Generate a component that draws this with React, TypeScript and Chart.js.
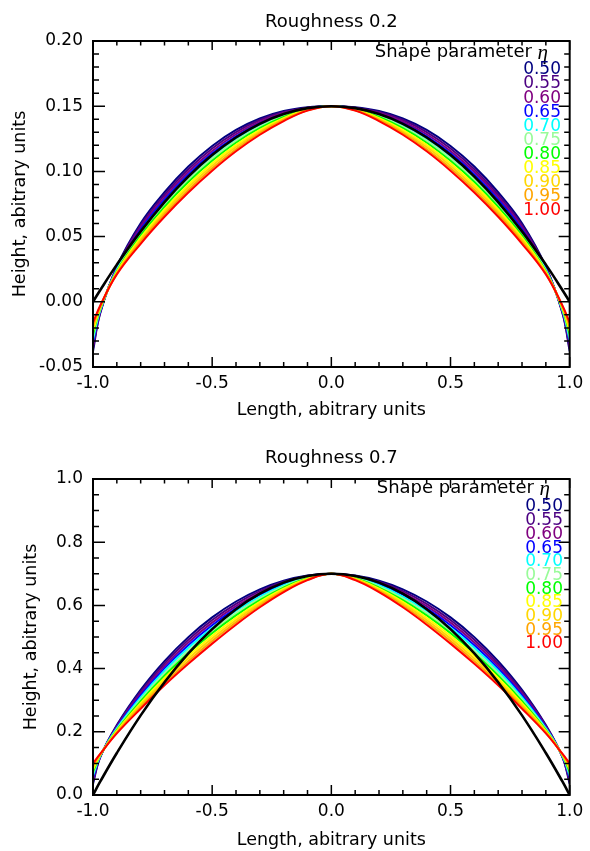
import React, { useEffect, useRef } from 'react';
import { Chart, registerables } from 'chart.js';
Chart.register(...registerables);

// ---- data ----
const X = [-1, -0.97, -0.9, -0.8, -0.7, -0.6, -0.5, -0.4, -0.3, -0.2, -0.1, 0, 0.1, 0.2, 0.3, 0.4, 0.5, 0.6, 0.7, 0.8, 0.9, 0.97, 1];
const X_TICKS = [-1, -0.5, 0, 0.5, 1];
const Y_TICKS_R02 = [-0.05, 0, 0.05, 0.1, 0.15, 0.2];
const Y_TICKS_R07 = [0, 0.2, 0.4, 0.6, 0.8, 1.0];
const ETA_LABELS = ['0.50', '0.55', '0.60', '0.65', '0.70', '0.75', '0.80', '0.85', '0.90', '0.95', '1.00'];
const ETA_COLORS = ['#000080', '#4b0082', '#800080', '#0000ff', '#00ffff', '#98fb98', '#00ff00', '#ffff00', '#ffd700', '#ffa500', '#ff0000'];

// Roughness 0.2
const R02_BLACK = [0, 0.0089, 0.0285, 0.054, 0.0765, 0.096, 0.1125, 0.126, 0.1365, 0.144, 0.1485, 0.15, 0.1485, 0.144, 0.1365, 0.126, 0.1125, 0.096, 0.0765, 0.054, 0.0285, 0.0089, 0];
const R02_050 = [-0.038, -0.009, 0.027, 0.0602, 0.084, 0.1037, 0.1195, 0.1318, 0.1406, 0.1463, 0.1492, 0.15, 0.1492, 0.1463, 0.1406, 0.1318, 0.1195, 0.1037, 0.084, 0.0602, 0.027, -0.009, -0.038];
const R02_055 = [-0.0358, -0.0084, 0.0264, 0.0586, 0.0821, 0.1017, 0.1176, 0.1302, 0.1394, 0.1455, 0.1489, 0.15, 0.1489, 0.1455, 0.1394, 0.1302, 0.1176, 0.1017, 0.0821, 0.0586, 0.0264, -0.0084, -0.0358];
const R02_060 = [-0.0336, -0.0078, 0.0258, 0.0571, 0.0802, 0.0997, 0.1157, 0.1285, 0.1381, 0.1448, 0.1487, 0.15, 0.1487, 0.1448, 0.1381, 0.1285, 0.1157, 0.0997, 0.0802, 0.0571, 0.0258, -0.0078, -0.0336];
const R02_065 = [-0.0314, -0.0072, 0.0252, 0.0555, 0.0784, 0.0977, 0.1138, 0.1269, 0.1369, 0.144, 0.1484, 0.15, 0.1484, 0.144, 0.1369, 0.1269, 0.1138, 0.0977, 0.0784, 0.0555, 0.0252, -0.0072, -0.0314];
const R02_070 = [-0.0292, -0.0066, 0.0246, 0.0539, 0.0765, 0.0957, 0.1119, 0.1252, 0.1356, 0.1432, 0.1482, 0.15, 0.1482, 0.1432, 0.1356, 0.1252, 0.1119, 0.0957, 0.0765, 0.0539, 0.0246, -0.0066, -0.0292];
const R02_075 = [-0.027, -0.006, 0.024, 0.0524, 0.0746, 0.0938, 0.11, 0.1236, 0.1344, 0.1425, 0.1479, 0.15, 0.1479, 0.1425, 0.1344, 0.1236, 0.11, 0.0938, 0.0746, 0.0524, 0.024, -0.006, -0.027];
const R02_080 = [-0.0248, -0.0054, 0.0234, 0.0508, 0.0727, 0.0918, 0.1081, 0.122, 0.1331, 0.1417, 0.1476, 0.15, 0.1476, 0.1417, 0.1331, 0.122, 0.1081, 0.0918, 0.0727, 0.0508, 0.0234, -0.0054, -0.0248];
const R02_085 = [-0.0226, -0.0048, 0.0228, 0.0492, 0.0708, 0.0898, 0.1062, 0.1203, 0.1319, 0.1409, 0.1474, 0.15, 0.1474, 0.1409, 0.1319, 0.1203, 0.1062, 0.0898, 0.0708, 0.0492, 0.0228, -0.0048, -0.0226];
const R02_090 = [-0.0204, -0.0042, 0.0222, 0.0476, 0.069, 0.0878, 0.1043, 0.1187, 0.1306, 0.1401, 0.1471, 0.15, 0.1471, 0.1401, 0.1306, 0.1187, 0.1043, 0.0878, 0.069, 0.0476, 0.0222, -0.0042, -0.0204];
const R02_095 = [-0.0182, -0.0036, 0.0216, 0.0461, 0.0671, 0.0858, 0.1024, 0.117, 0.1294, 0.1394, 0.1469, 0.15, 0.1469, 0.1394, 0.1294, 0.117, 0.1024, 0.0858, 0.0671, 0.0461, 0.0216, -0.0036, -0.0182];
const R02_100 = [-0.016, -0.003, 0.021, 0.0445, 0.0652, 0.0838, 0.1005, 0.1154, 0.1281, 0.1386, 0.1466, 0.15, 0.1466, 0.1386, 0.1281, 0.1154, 0.1005, 0.0838, 0.0652, 0.0445, 0.021, -0.003, -0.016];

// Roughness 0.7
const R07_BLACK = [0, 0.042, 0.133, 0.252, 0.357, 0.448, 0.525, 0.588, 0.637, 0.672, 0.693, 0.70, 0.693, 0.672, 0.637, 0.588, 0.525, 0.448, 0.357, 0.252, 0.133, 0.042, 0];
const R07_050 = [0.035, 0.1191, 0.2212, 0.3328, 0.4239, 0.4996, 0.562, 0.6123, 0.6509, 0.6782, 0.6946, 0.7, 0.6946, 0.6782, 0.6509, 0.6123, 0.562, 0.4996, 0.4239, 0.3328, 0.2212, 0.1191, 0.035];
const R07_055 = [0.0415, 0.1202, 0.2186, 0.3268, 0.4162, 0.4911, 0.5537, 0.605, 0.6452, 0.6746, 0.6931, 0.7, 0.6931, 0.6746, 0.6452, 0.605, 0.5537, 0.4911, 0.4162, 0.3268, 0.2186, 0.1202, 0.0415];
const R07_060 = [0.048, 0.1213, 0.216, 0.3208, 0.4085, 0.4827, 0.5454, 0.5976, 0.6395, 0.671, 0.6917, 0.7, 0.6917, 0.671, 0.6395, 0.5976, 0.5454, 0.4827, 0.4085, 0.3208, 0.216, 0.1213, 0.048];
const R07_065 = [0.0545, 0.1224, 0.2133, 0.3149, 0.4008, 0.4742, 0.5371, 0.5903, 0.6338, 0.6673, 0.6902, 0.7, 0.6902, 0.6673, 0.6338, 0.5903, 0.5371, 0.4742, 0.4008, 0.3149, 0.2133, 0.1224, 0.0545];
const R07_070 = [0.061, 0.1235, 0.2107, 0.3089, 0.3931, 0.4658, 0.5288, 0.583, 0.6281, 0.6637, 0.6888, 0.7, 0.6888, 0.6637, 0.6281, 0.583, 0.5288, 0.4658, 0.3931, 0.3089, 0.2107, 0.1235, 0.061];
const R07_075 = [0.0675, 0.1246, 0.2081, 0.3029, 0.3855, 0.4573, 0.5205, 0.5757, 0.6225, 0.6601, 0.6873, 0.7, 0.6873, 0.6601, 0.6225, 0.5757, 0.5205, 0.4573, 0.3855, 0.3029, 0.2081, 0.1246, 0.0675];
const R07_080 = [0.074, 0.1256, 0.2055, 0.2969, 0.3778, 0.4488, 0.5122, 0.5683, 0.6168, 0.6565, 0.6858, 0.7, 0.6858, 0.6565, 0.6168, 0.5683, 0.5122, 0.4488, 0.3778, 0.2969, 0.2055, 0.1256, 0.074];
const R07_085 = [0.0805, 0.1267, 0.2029, 0.2909, 0.3701, 0.4404, 0.5039, 0.561, 0.6111, 0.6529, 0.6844, 0.7, 0.6844, 0.6529, 0.6111, 0.561, 0.5039, 0.4404, 0.3701, 0.2909, 0.2029, 0.1267, 0.0805];
const R07_090 = [0.087, 0.1278, 0.2002, 0.285, 0.3624, 0.4319, 0.4956, 0.5537, 0.6054, 0.6492, 0.6829, 0.7, 0.6829, 0.6492, 0.6054, 0.5537, 0.4956, 0.4319, 0.3624, 0.285, 0.2002, 0.1278, 0.087];
const R07_095 = [0.0935, 0.1289, 0.1976, 0.279, 0.3547, 0.4235, 0.4873, 0.5463, 0.5997, 0.6456, 0.6815, 0.7, 0.6815, 0.6456, 0.5997, 0.5463, 0.4873, 0.4235, 0.3547, 0.279, 0.1976, 0.1289, 0.0935];
const R07_100 = [0.1, 0.13, 0.195, 0.273, 0.347, 0.415, 0.479, 0.539, 0.594, 0.642, 0.68, 0.7, 0.68, 0.642, 0.594, 0.539, 0.479, 0.415, 0.347, 0.273, 0.195, 0.13, 0.1];

const R02_SERIES = [R02_050, R02_055, R02_060, R02_065, R02_070, R02_075, R02_080, R02_085, R02_090, R02_095, R02_100];
const R07_SERIES = [R07_050, R07_055, R07_060, R07_065, R07_070, R07_075, R07_080, R07_085, R07_090, R07_095, R07_100];

const FONT = "'DejaVu Sans', 'Liberation Sans', sans-serif";

const PANELS = [
  {
    title: 'Roughness 0.2', series: R02_SERIES, black: R02_BLACK,
    yMin: -0.05, yMax: 0.2, yTicks: Y_TICKS_R02, yDec: 2, yMinor: 0.01, yMajor: 0.05,
    top: 0, height: 425, titlePad: { top: 11.2, bottom: 8.2 }, xScaleH: 58, xTitlePad: 4.5, yTitlePad: 9.5,
    headRight: 548, headY: 52, valRight: 561, valY0: 70, valStep: 14.07,
  },
  {
    title: 'Roughness 0.7', series: R07_SERIES, black: R07_BLACK,
    yMin: 0, yMax: 1, yTicks: Y_TICKS_R07, yDec: 1, yMinor: 0.05, yMajor: 0.2,
    top: 425, height: 426, titlePad: { top: 22.2, bottom: 10.2 }, xScaleH: 56, xTitlePad: 0.5, yTitlePad: 20.5,
    headRight: 550, headY: 63, valRight: 563, valY0: 82, valStep: 13.7,
  },
];

const frameTicks = {
  id: 'frameTicks',
  afterDatasetsDraw(chart: any, _args: any, o: any) {
    const { ctx, chartArea: a, scales } = chart;
    const xs = scales.x, ys = scales.y;
    ctx.save();
    ctx.strokeStyle = '#000';
    ctx.lineWidth = 1.5;
    ctx.beginPath();
    const isMajor = (v: number, m: number) => Math.abs(v / m - Math.round(v / m)) < 1e-6;
    const nx = Math.round((xs.max - xs.min) / o.xMinor);
    for (let i = 0; i <= nx; i++) {
      const v = xs.min + i * o.xMinor;
      const p = xs.getPixelForValue(v);
      const maj = isMajor(v, o.xMajor);
      const lb = maj ? 10 : 5, lt = maj ? 9 : 4.5;
      ctx.moveTo(p, a.bottom); ctx.lineTo(p, a.bottom - lb);
      ctx.moveTo(p, a.top); ctx.lineTo(p, a.top + lt);
    }
    const ny = Math.round((ys.max - ys.min) / o.yMinor);
    for (let i = 0; i <= ny; i++) {
      const v = ys.min + i * o.yMinor;
      const p = ys.getPixelForValue(v);
      const maj = isMajor(v, o.yMajor);
      const ll = maj ? 12 : 6, lr = maj ? 11 : 5.5;
      ctx.moveTo(a.left, p); ctx.lineTo(a.left + ll, p);
      ctx.moveTo(a.right, p); ctx.lineTo(a.right - lr, p);
    }
    ctx.stroke();
    ctx.lineWidth = 2;
    ctx.strokeRect(a.left, a.top, a.right - a.left, a.bottom - a.top);
    ctx.restore();
  },
  afterDraw(chart: any, _args: any, o: any) {
    const { ctx } = chart;
    ctx.save();
    ctx.textBaseline = 'middle';
    ctx.textAlign = 'right';
    ctx.font = "italic 21px 'Liberation Serif', serif";
    const etaW = ctx.measureText('η').width;
    ctx.fillStyle = '#000';
    ctx.fillText('η', o.headRight, o.headY + 1);
    ctx.font = `18px ${FONT}`;
    ctx.fillText('Shape parameter ', o.headRight - etaW, o.headY);
    ctx.font = `17px ${FONT}`;
    o.labels.forEach((t: string, i: number) => {
      ctx.fillStyle = o.colors[i];
      ctx.fillText(t, o.valRight, o.valY0 + i * o.valStep);
    });
    ctx.restore();
  },
};

function Panel({ cfg }: { cfg: any }) {
  const ref = useRef<HTMLCanvasElement>(null);
  useEffect(() => {
    if (!ref.current) return;
    const datasets: any[] = [];
    datasets.push({
      label: 'reference', data: X.map((x, i) => ({ x, y: cfg.black[i] })),
      borderColor: '#000', borderWidth: 2.6, pointRadius: 0, tension: 0.4, fill: false,
    });
    for (let k = cfg.series.length - 1; k >= 0; k--) {
      datasets.push({
        label: ETA_LABELS[k], data: X.map((x, i) => ({ x, y: cfg.series[k][i] })),
        borderColor: ETA_COLORS[k], borderWidth: 2, pointRadius: 0, tension: 0.4, fill: false,
      });
    }
    const tickFont = { family: FONT, size: 17 };
    const chart = new Chart(ref.current, {
      type: 'line',
      data: { datasets },
      plugins: [frameTicks],
      options: {
        animation: false,
        responsive: false,
        layout: { padding: { left: 0, right: 17, top: 0, bottom: 0 } },
        plugins: {
          legend: { display: false },
          tooltip: { enabled: false },
          title: {
            display: true, text: cfg.title, fullSize: false, color: '#000',
            font: { family: FONT, size: 18, weight: 'normal' }, padding: cfg.titlePad,
          },
          frameTicks: {
            xMinor: 0.1, xMajor: 0.5, yMinor: cfg.yMinor, yMajor: cfg.yMajor,
            headRight: cfg.headRight, headY: cfg.headY, valRight: cfg.valRight, valY0: cfg.valY0, valStep: cfg.valStep,
            labels: ETA_LABELS, colors: ETA_COLORS,
          },
        } as any,
        scales: {
          x: {
            type: 'linear', min: -1, max: 1,
            grid: { display: false, drawTicks: false },
            border: { display: false },
            afterBuildTicks: (s: any) => { s.ticks = X_TICKS.map((v) => ({ value: v })); },
            afterFit: (s: any) => { s.height = cfg.xScaleH; },
            ticks: {
              autoSkip: false, maxRotation: 0, padding: 6.8, color: '#000', font: tickFont,
              callback: (v: any) => Number(v).toFixed(1),
            },
            title: {
              display: true, text: 'Length, abitrary units', color: '#000',
              font: { family: FONT, size: 17.5 }, padding: { top: 0, bottom: cfg.xTitlePad },
            },
          },
          y: {
            type: 'linear', min: cfg.yMin, max: cfg.yMax,
            grid: { display: false, drawTicks: false },
            border: { display: false },
            afterBuildTicks: (s: any) => { s.ticks = cfg.yTicks.map((v: number) => ({ value: v })); },
            afterFit: (s: any) => { s.width = 93; },
            ticks: {
              autoSkip: false, padding: 10, color: '#000', font: tickFont,
              callback: (v: any) => Number(v).toFixed(cfg.yDec),
            },
            title: {
              display: true, text: 'Height, abitrary units', color: '#000',
              font: { family: FONT, size: 17.5 }, padding: { top: cfg.yTitlePad, bottom: 0 },
            },
          },
        },
      } as any,
    });
    return () => chart.destroy();
  }, [cfg]);
  return (
    <canvas
      ref={ref}
      width={590}
      height={cfg.height}
      style={{ position: 'absolute', left: 0, top: cfg.top, width: 590, height: cfg.height, display: 'block' }}
    />
  );
}

export default function App() {
  return (
    <div style={{ position: 'absolute', left: 0, top: 0, width: 590, height: 851, background: '#fff' }}>
      {PANELS.map((p, i) => <Panel key={i} cfg={p} />)}
    </div>
  );
}
